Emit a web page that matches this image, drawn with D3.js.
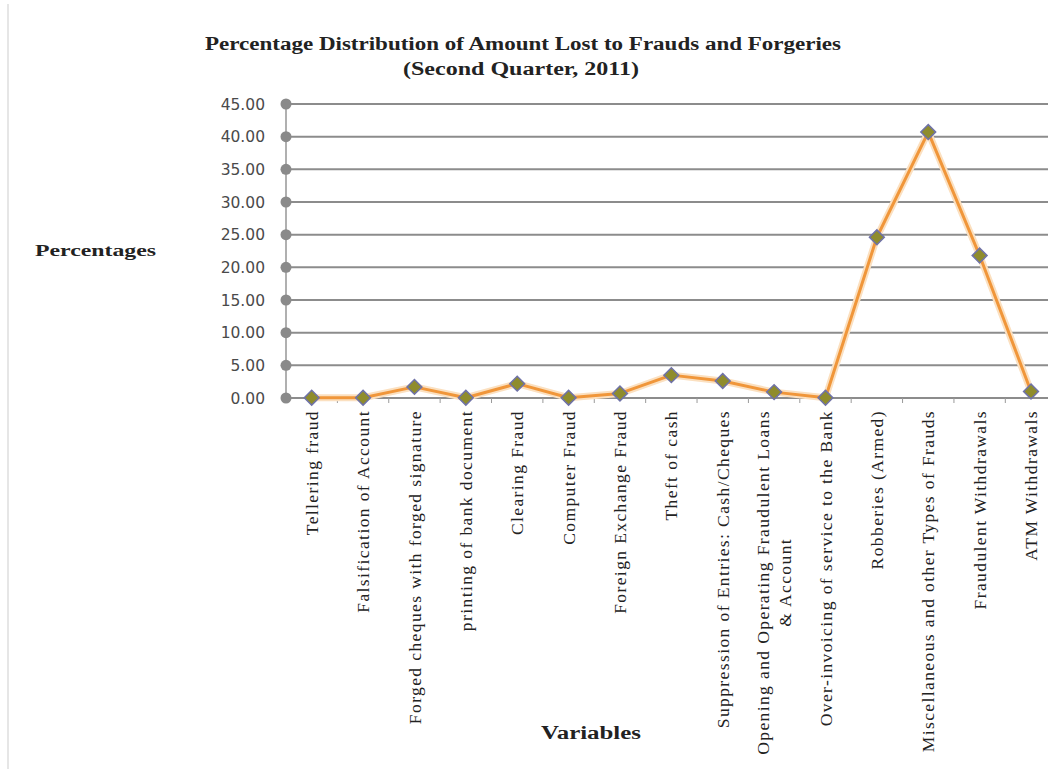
<!DOCTYPE html>
<html>
<head>
<meta charset="utf-8">
<script src="https://cdn.jsdelivr.net/npm/d3@7"></script>
<style>
  body { margin: 0; background: #fff; }
  svg { display: block; }
</style>
</head>
<body>
<svg id="chart" width="1048" height="769"></svg>
<script>
const categories = [
  "Tellering fraud", "Falsification of Account", "Forged cheques with forged signature",
  "printing of bank document", "Clearing Fraud", "Computer Fraud", "Foreign Exchange Fraud",
  "Theft of cash", "Suppression of Entries: Cash/Cheques",
  "Opening and Operating Fraudulent Loans|& Account",
  "Over-invoicing of service to the Bank", "Robberies (Armed)",
  "Miscellaneous and other Types of Frauds", "Fraudulent Withdrawals", "ATM Withdrawals"
];
const percentages = [0.05, 0.04, 1.7, 0.04, 2.2, 0.04, 0.7, 3.5, 2.6, 0.9, 0.03, 24.6, 40.7, 21.8, 1.0];
const yTicks = [0, 5, 10, 15, 20, 25, 30, 35, 40, 45];

const svg = d3.select("#chart");
const width = +svg.attr("width");
const height = +svg.attr("height");

const plotLeft = 286, plotTop = 104, plotBottom = 398;
const band = 51.38;

const x = d3.scaleBand()
    .domain(categories)
    .range([plotLeft, plotLeft + band * categories.length])
    .paddingInner(0).paddingOuter(0);
const y = d3.scaleLinear().domain([0, 45]).range([plotBottom, plotTop]);

// faint page border on the left
svg.append("line")
    .attr("x1", 8).attr("x2", 8).attr("y1", 4).attr("y2", height)
    .attr("stroke", "#e6e6e6").attr("stroke-width", 2);

// Title
const title = svg.append("text")
    .attr("text-anchor", "middle")
    .style("font-family", "'Liberation Serif', serif")
    .style("font-weight", "bold")
    .style("font-size", "18px")
    .attr("fill", "#222");
title.append("tspan").attr("x", 523).attr("y", 50)
    .attr("textLength", 636).attr("lengthAdjust", "spacingAndGlyphs")
    .text("Percentage Distribution of Amount Lost to Frauds and Forgeries");
title.append("tspan").attr("x", 521).attr("y", 75)
    .attr("textLength", 236).attr("lengthAdjust", "spacingAndGlyphs")
    .text("(Second Quarter, 2011)");

// Gridlines
svg.append("g")
    .selectAll("line")
    .data(yTicks)
    .enter()
    .append("line")
    .attr("x1", plotLeft).attr("x2", width)
    .attr("y1", d => y(d)).attr("y2", d => y(d))
    .attr("stroke", "#8c8c8c").attr("stroke-width", 2);

// Y axis line + round tick markers
svg.append("line")
    .attr("x1", plotLeft).attr("x2", plotLeft)
    .attr("y1", y(45)).attr("y2", y(0))
    .attr("stroke", "#b0b0b0").attr("stroke-width", 2);

svg.append("g")
    .selectAll("circle")
    .data(yTicks)
    .enter()
    .append("circle")
    .attr("cx", plotLeft).attr("cy", d => y(d)).attr("r", 5.5)
    .attr("fill", "#8a8a8a");

// Y tick labels
svg.append("g")
    .selectAll("text")
    .data(yTicks)
    .enter()
    .append("text")
    .attr("x", 265).attr("y", d => y(d))
    .attr("dy", "0.36em")
    .attr("text-anchor", "end")
    .style("font-family", "'DejaVu Sans', sans-serif")
    .style("font-size", "15.5px")
    .attr("fill", "#4a4a4a")
    .text(d => d.toFixed(2));

// X tick marks at band boundaries
svg.append("g")
    .selectAll("line")
    .data(categories.slice(1))
    .enter()
    .append("line")
    .attr("x1", d => x(d)).attr("x2", d => x(d))
    .attr("y1", plotBottom).attr("y2", plotBottom + 5)
    .attr("stroke", "#9a9a9a").attr("stroke-width", 1);

// X category labels (rotated)
const xl = svg.append("g")
    .selectAll("g")
    .data(categories)
    .enter()
    .append("g")
    .attr("transform", d => `translate(${x(d) + x.bandwidth() / 2},410) rotate(-90)`);

xl.each(function (d) {
    const lines = d.split("|");
    const g = d3.select(this);
    const t = g.append("text")
        .style("font-family", "'Liberation Serif', serif")
        .style("font-size", "17.5px")
        .style("letter-spacing", "1.4px")
        .attr("fill", "#222");
    if (lines.length === 1) {
        t.attr("text-anchor", "end").attr("x", 0).attr("y", 0).attr("dy", "0.35em").text(d);
    } else {
        t.attr("text-anchor", "middle");
        const spans = lines.map((ln, i) => t.append("tspan")
            .attr("y", (i - 0.5) * 22)
            .attr("dy", "0.35em")
            .text(ln));
        const w = d3.max(spans, s => s.node().getComputedTextLength());
        spans.forEach(s => s.attr("x", -w / 2));
    }
});

// Line
const line = d3.line()
    .x((d, i) => x(categories[i]) + x.bandwidth() / 2)
    .y(d => y(d));

svg.append("path")
    .datum(percentages)
    .attr("d", line)
    .attr("fill", "none")
    .attr("stroke", "#fbe0c0")
    .attr("stroke-width", 7)
    .attr("stroke-linejoin", "round");

svg.append("path")
    .datum(percentages)
    .attr("d", line)
    .attr("fill", "none")
    .attr("stroke", "#f0963a")
    .attr("stroke-width", 3)
    .attr("stroke-linejoin", "round");

// Diamond markers
const marker = d3.symbol().type(d3.symbolSquare).size(110);
svg.append("g")
    .selectAll(".pt")
    .data(percentages)
    .enter()
    .append("path")
    .attr("class", "pt")
    .attr("d", marker)
    .attr("transform", (d, i) => `translate(${x(categories[i]) + x.bandwidth() / 2},${y(d)}) rotate(45)`)
    .attr("fill", "#8f8c2c")
    .attr("stroke", "#6f72a8")
    .attr("stroke-width", 1.5);

// Axis titles
svg.append("text")
    .attr("x", 35).attr("y", 256)
    .style("font-family", "'Liberation Serif', serif")
    .style("font-weight", "bold")
    .style("font-size", "17px")
    .attr("textLength", 121).attr("lengthAdjust", "spacingAndGlyphs")
    .attr("fill", "#222")
    .text("Percentages");

svg.append("text")
    .attr("x", 541).attr("y", 739)
    .style("font-family", "'Liberation Serif', serif")
    .style("font-weight", "bold")
    .style("font-size", "18px")
    .attr("textLength", 100).attr("lengthAdjust", "spacingAndGlyphs")
    .attr("fill", "#222")
    .text("Variables");
</script>
</body>
</html>
